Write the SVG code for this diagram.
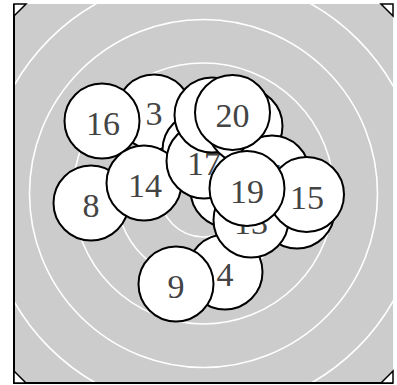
<svg xmlns="http://www.w3.org/2000/svg" width="397" height="385" viewBox="0 0 397 385">
<style>
.ring{fill:none;stroke:#fff;stroke-width:1.6}
.node circle{fill:#fff;stroke:#000;stroke-width:2}
.node text{font-family:"Liberation Serif","Times New Roman",serif;font-size:34px;fill:#444;text-anchor:middle}
.corner{fill:#fff;stroke:#000;stroke-width:1.5}
.axis{stroke:#000;stroke-width:2;fill:none}
</style>
<defs>
<clipPath id="plot"><rect x="14" y="4" width="379" height="379"/></clipPath>
</defs>
<rect x="14" y="4" width="379" height="379" fill="#cccccc"/>
<g id="rings" clip-path="url(#plot)">
<circle class="ring" cx="203.5" cy="193.5" r="43.5"/>
<circle class="ring" cx="203.5" cy="193.5" r="87"/>
<circle class="ring" cx="203.5" cy="193.5" r="130.5"/>
<circle class="ring" cx="203.5" cy="193.5" r="174"/>
<circle class="ring" cx="203.5" cy="193.5" r="218"/>
<circle class="ring" cx="203.5" cy="193.5" r="261"/>
</g>
<g id="nodes">
<g id="node-8" class="node"><circle cx="91" cy="203" r="37.5"/><text x="91" y="217">8</text></g>
<g id="node-3" class="node"><circle cx="154" cy="112" r="37.5"/><text x="154" y="125">3</text></g>
<g id="node-c" class="node"><circle cx="200" cy="150" r="37.5"/></g>
<g id="node-16" class="node"><circle cx="102" cy="121" r="37.5"/><text x="103" y="135">16</text></g>
<g id="node-14" class="node"><circle cx="144" cy="183" r="37.5"/><text x="145" y="197">14</text></g>
<g id="node-d" class="node"><circle cx="228" cy="190" r="37.5"/></g>
<g id="node-17" class="node"><circle cx="204" cy="161" r="37.5"/><text x="204" y="175">17</text></g>
<g id="node-a" class="node"><circle cx="212" cy="115" r="37.5"/></g>
<g id="node-b" class="node"><circle cx="245" cy="126" r="37.5"/></g>
<g id="node-7" class="node"><circle cx="272" cy="173" r="37.5"/><text x="272" y="187">7</text></g>
<g id="node-20" class="node"><circle cx="232.5" cy="112.5" r="37.5"/><text x="232.5" y="126.5">20</text></g>
<g id="node-f" class="node"><circle cx="297" cy="211" r="37.5"/></g>
<g id="node-4" class="node"><circle cx="225" cy="272" r="37.5"/><text x="225" y="286">4</text></g>
<g id="node-13" class="node"><circle cx="251" cy="220" r="37.5"/><text x="251" y="234">13</text></g>
<g id="node-15" class="node"><circle cx="306.5" cy="194.5" r="37.5"/><text x="307" y="208.5">15</text></g>
<g id="node-19" class="node"><circle cx="247" cy="188.5" r="37.5"/><text x="247" y="202.5">19</text></g>
<g id="node-9" class="node"><circle cx="176" cy="284" r="37.5"/><text x="176" y="298">9</text></g>
</g>
<g id="frame">
<path class="axis" d="M14,4 V383 H393"/>
<polygon class="corner" points="14,4 26,4 14,16"/>
<polygon class="corner" points="393,4 381,4 393,16"/>
<polygon class="corner" points="14,383 26,383 14,371"/>
<polygon class="corner" points="393,383 381,383 393,371"/>
</g>
</svg>
